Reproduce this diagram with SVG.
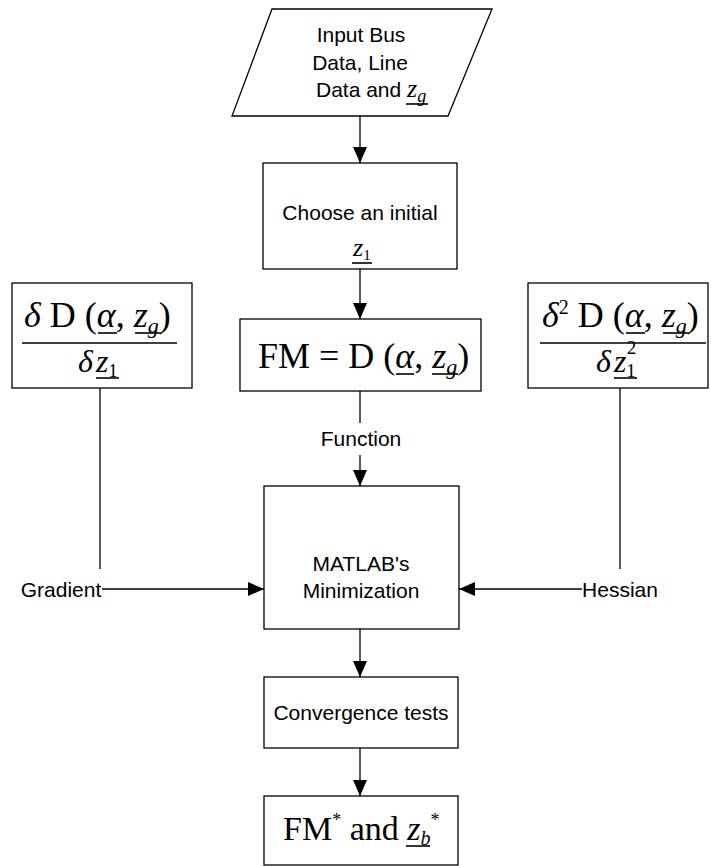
<svg xmlns="http://www.w3.org/2000/svg" width="711" height="866" viewBox="0 0 711 866">
<style>
.box{fill:#fff;stroke:#000;stroke-width:1.3}
.ln{stroke:#000;stroke-width:1.3;fill:none}
.s{font-family:"Liberation Sans",Arial,sans-serif;font-size:21px;fill:#000}
.m{font-family:"Liberation Serif","Times New Roman",serif;fill:#000}
.i{font-style:italic}
.u{stroke:#000;stroke-width:1.6}
</style>
<defs>
<marker id="ah" markerWidth="16" markerHeight="14" refX="16" refY="7" orient="auto" markerUnits="userSpaceOnUse">
<path d="M0,0 L16,7 L0,14 Z" fill="#000"/>
</marker>
</defs>
<rect width="711" height="866" fill="#fff"/>
<g id="connectors">
<line class="ln" x1="360" y1="116" x2="360" y2="163" marker-end="url(#ah)"/>
<line class="ln" x1="360" y1="269" x2="360" y2="319" marker-end="url(#ah)"/>
<line class="ln" x1="360" y1="391" x2="360" y2="423"/>
<line class="ln" x1="360" y1="455" x2="360" y2="486" marker-end="url(#ah)"/>
<line class="ln" x1="100" y1="388" x2="100" y2="569"/>
<line class="ln" x1="102" y1="589" x2="264" y2="589" marker-end="url(#ah)"/>
<line class="ln" x1="620" y1="388" x2="620" y2="569"/>
<line class="ln" x1="582" y1="589" x2="459" y2="589" marker-end="url(#ah)"/>
<line class="ln" x1="360" y1="629" x2="360" y2="677" marker-end="url(#ah)"/>
<line class="ln" x1="360" y1="748" x2="360" y2="796" marker-end="url(#ah)"/>
<text class="s" x="361" y="446" text-anchor="middle">Function</text>
<text class="s" x="61" y="597" text-anchor="middle">Gradient</text>
<text class="s" x="620" y="597" text-anchor="middle">Hessian</text>
</g>
<g id="input">
<polygon class="box" points="272,9 492,9 448,116 232,116"/>
<text class="s" x="361" y="42" text-anchor="middle">Input Bus</text>
<text class="s" x="360" y="70" text-anchor="middle">Data, Line</text>
<text class="s" x="316" y="97">Data and <tspan class="m i" font-size="26">z</tspan><tspan class="m i" font-size="18" dy="5">g</tspan></text>
<line class="u" x1="406" y1="104" x2="428" y2="104"/>
</g>
<g id="choose">
<rect class="box" x="263" y="163" width="194" height="106"/>
<text class="s" x="360" y="220" text-anchor="middle">Choose an initial</text>
<text class="m i" x="353" y="256" font-size="26">z<tspan font-style="normal" font-size="15" dy="4">1</tspan></text>
<line class="u" x1="352" y1="263" x2="372" y2="263"/>
</g>
<g id="fm">
<rect class="box" x="240" y="319" width="241" height="72"/>
<text class="m" x="258" y="368" font-size="36">FM = D (<tspan class="i">α</tspan>, <tspan class="i">z</tspan><tspan class="i" font-size="22" dy="6">g</tspan><tspan dy="-6">)</tspan></text>
<line class="u" x1="396" y1="374" x2="414" y2="374"/>
<line class="u" x1="432" y1="374" x2="458" y2="374"/>
</g>
<g id="gradbox">
<rect class="box" x="12" y="283" width="180" height="105"/>
<text class="m" x="24" y="327" font-size="36"><tspan class="i">δ</tspan> D (<tspan class="i">α</tspan>, <tspan class="i">z</tspan><tspan class="i" font-size="22" dy="6">g</tspan><tspan dy="-6">)</tspan></text>
<line class="u" x1="98" y1="333" x2="117" y2="333"/>
<line class="u" x1="135" y1="333" x2="161" y2="333"/>
<line class="ln" x1="22" y1="343" x2="177" y2="343" stroke-width="1.8"/>
<text class="m i" x="78" y="372" font-size="32">δ<tspan dx="3">z</tspan><tspan font-style="normal" font-size="19" dy="5">1</tspan></text>
<line class="u" x1="96" y1="378" x2="119" y2="378"/>
</g>
<g id="matlab">
<rect class="box" x="264" y="486" width="195" height="143"/>
<text class="s" x="361" y="571" text-anchor="middle">MATLAB's</text>
<text class="s" x="361" y="598" text-anchor="middle">Minimization</text>
</g>
<g id="hessbox">
<rect class="box" x="528" y="283" width="180" height="105"/>
<text class="m" x="542" y="327" font-size="36"><tspan class="i">δ</tspan><tspan font-size="20" dy="-13">2</tspan><tspan dy="13"> D (</tspan><tspan class="i">α</tspan>, <tspan class="i">z</tspan><tspan class="i" font-size="22" dy="6">g</tspan><tspan dy="-6">)</tspan></text>
<line class="u" x1="626" y1="333" x2="645" y2="333"/>
<line class="u" x1="663" y1="333" x2="689" y2="333"/>
<line class="ln" x1="540" y1="343" x2="706" y2="343" stroke-width="1.8"/>
<text class="m i" x="596" y="372" font-size="32">δ<tspan dx="3">z</tspan><tspan font-style="normal" font-size="19" dy="5">1</tspan><tspan font-style="normal" font-size="19" dx="-9" dy="-23">2</tspan></text>
<line class="u" x1="614" y1="378" x2="637" y2="378"/>
</g>
<g id="convergence">
<rect class="box" x="264" y="677" width="194" height="71"/>
<text class="s" x="361" y="720" text-anchor="middle">Convergence tests</text>
</g>
<g id="result">
<rect class="box" x="264" y="796" width="194" height="69"/>
<text class="m" x="283" y="840" font-size="34">FM<tspan font-size="18" dy="-14">*</tspan><tspan dy="14"> and </tspan><tspan class="i">z</tspan><tspan class="i" font-size="20" dy="5">b</tspan><tspan font-size="18" dy="-19">*</tspan></text>
<line class="u" x1="406" y1="846" x2="430" y2="846"/>
</g>
</svg>
